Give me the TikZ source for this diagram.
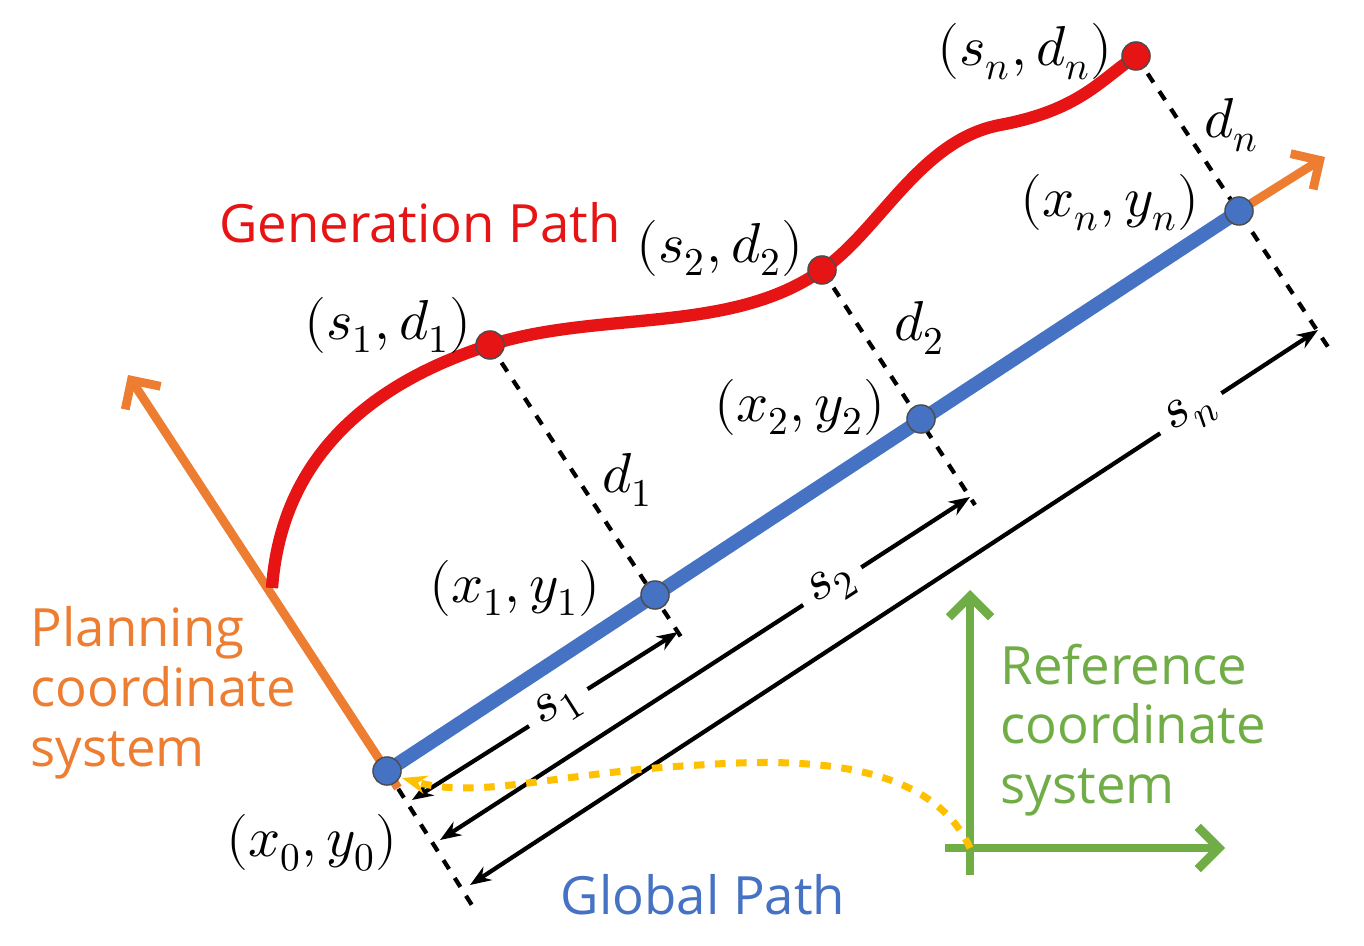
\documentclass[tikz,border=0pt]{standalone}
\usepackage{amsmath}
\usepackage{fontspec}
\setmainfont{Open Sans}
\usepackage{unicode-math}
\setmathfont{Latin Modern Math}
\usetikzlibrary{arrows.meta}
\definecolor{genred}{RGB}{230,20,20}
\definecolor{globblue}{RGB}{70,114,196}
\definecolor{planorange}{RGB}{237,125,49}
\definecolor{refgreen}{RGB}{112,173,71}
\definecolor{yel}{RGB}{255,192,0}
\tikzset{
  pt/.style={circle,draw=black!70,inner sep=0pt,minimum size=8pt},
  dimline/.style={black,dashed,line width=1.2pt},
  measure/.style={black,line width=1.2pt,{Stealth[length=6pt]}-{Stealth[length=6pt]}},
  lbl/.style={font=\fontsize{16}{19}\selectfont},
  txt/.style={font=\fontsize{15}{18}\selectfont,align=left}
}
\begin{document}
\begin{tikzpicture}[x=0.01cm,y=-0.01cm]
    \useasboundingbox (0,0) rectangle (1364,946);

    % Points on the global path
    \coordinate (p0) at (387,771);
    \coordinate (p1) at (655,595);
    \coordinate (p2) at (921,419);
    \coordinate (pn) at (1239,211);
    % Points on the generation path
    \coordinate (q1) at (490,345);
    \coordinate (q2) at (822,270);
    \coordinate (qn) at (1136,56);
    % Ends of the dashed lines
    \coordinate (e0) at (475,910);
    \coordinate (e1) at (683,640);
    \coordinate (e2) at (975,505);
    \coordinate (en) at (1330,350);

    % Planning coordinate system
    \coordinate (pa) at (128,375);
    \coordinate (pb) at (398,788);
    \coordinate (pc) at (1325,157);
    \draw[planorange,line width=2.5pt,-{Straight Barb[length=6pt]}] (pb) -- (pa);
    \draw[planorange,line width=2.5pt,-{Straight Barb[length=6pt]}] (pn) -- (pc);

    % Dashed projections
    \draw[dimline] (q1) -- (e1);
    \draw[dimline] (q2) -- (e2);
    \draw[dimline] (qn) -- (en);
    \draw[dimline] (p0) -- (e0);

    % Global path
    \draw[globblue,line width=4pt] (p0) -- (pn);

    % Generation path
    \draw[genred,line width=3.5pt] (272,588) .. controls (282,450) and (380,380) .. (q1)
        .. controls (600,310) and (730,335) .. (q2)
        .. controls (880,230) and (920,140) .. (1000,125)
        .. controls (1080,110) and (1100,80) .. (qn);

    % Arc lengths
    \coordinate (a1) at (412,800); \coordinate (b1) at (678,632);
    \coordinate (a2) at (440,840); \coordinate (b2) at (970,497);
    \coordinate (an) at (470,885); \coordinate (bn) at (1318,330);
    \draw[measure] (a1) -- node[pos=0.55,fill=white,sloped,lbl,inner sep=3pt] {$s_1$} (b1);
    \draw[measure] (a2) -- node[pos=0.74,fill=white,sloped,lbl,inner sep=3pt] {$s_2$} (b2);
    \draw[measure] (an) -- node[pos=0.85,fill=white,sloped,lbl,inner sep=3pt] {$s_n$} (bn);

    % Reference coordinate system
    \coordinate (o) at (970,848);
    \coordinate (gy) at (970,590);
    \coordinate (gx) at (1225,848);
    \draw[refgreen,line width=2.5pt,-{Straight Barb[length=6pt]}] (970,875) -- (gy);
    \draw[refgreen,line width=2.5pt,-{Straight Barb[length=6pt]}] (945,848) -- (gx);
    \draw[yel,dashed,line width=2pt,-{Stealth[length=7pt]}] (o) .. controls (930,760) and (800,758) .. (700,765)
        .. controls (560,772) and (480,800) .. (402,778);

    % Marked points
    \foreach \p in {p0,p1,p2,pn} \node[pt,fill=globblue] at (\p) {};
    \foreach \q in {q1,q2,qn} \node[pt,fill=genred] at (\q) {};

    % Point labels
    \node[lbl] (l0) at (312,843) {$(x_0,y_0)$};
    \node[lbl] (l1) at (515,588) {$(x_1,y_1)$};
    \node[lbl] (l2) at (800,407) {$(x_2,y_2)$};
    \node[lbl] (ln) at (1110,203) {$(x_n,y_n)$};
    \node[lbl] (m1) at (388,325) {$(s_1,d_1)$};
    \node[lbl] (m2) at (720,248) {$(s_2,d_2)$};
    \node[lbl] (mn) at (1025,52) {$(s_n,d_n)$};
    \node[lbl] (d1) at (628,480) {$d_1$};
    \node[lbl] (d2) at (920,328) {$d_2$};
    \node[lbl] (dn) at (1232,125) {$d_n$};

    % Texts
    \node[txt,text=genred] (gen) at (420,223) {Generation Path};
    \node[txt,text=globblue] (glob) at (703,895) {Global Path};
    \node[txt,text=planorange,anchor=west,inner sep=0pt] (plan) at (30,693) {Planning\\[-1pt]coordinate\\[-1pt]system};
    \node[txt,text=refgreen,anchor=west,inner sep=0pt] (ref) at (1000,730) {Reference\\[-1pt]coordinate\\[-1pt]system};
\end{tikzpicture}
\end{document}
